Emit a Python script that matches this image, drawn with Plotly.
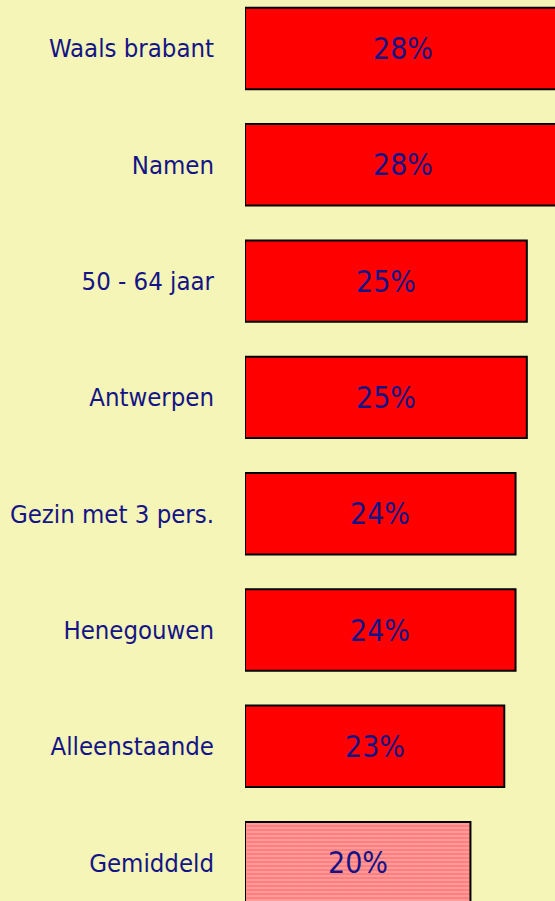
import plotly.graph_objects as go

categories = ["Waals brabant", "Namen", "50 - 64 jaar", "Antwerpen",
              "Gezin met 3 pers.", "Henegouwen", "Alleenstaande", "Gemiddeld"]
values = [28, 28, 25, 25, 24, 24, 23, 20]
labels = [f"{v}%" for v in values]

FONT = "Liberation Sans Narrow, DejaVu Sans Condensed, Liberation Sans, sans-serif"
NAVY = "#141486"
BG = "#f5f5b8"

main_cats = categories[:-1]
main_vals = values[:-1]

fig = go.Figure()
fig.add_trace(go.Bar(
    y=main_cats, x=main_vals, orientation="h", width=0.70,
    marker=dict(color="#ff0000", line=dict(color="#000000", width=2)),
    hoverinfo="skip",
))
fig.add_trace(go.Bar(
    y=[categories[-1]], x=[values[-1]], orientation="h", width=0.70,
    marker=dict(color="#ff9a9a", line=dict(color="#000000", width=2),
                pattern=dict(shape="-", fgcolor="#ff6464", bgcolor="#ff9a9a",
                             size=4, solidity=0.5)),
    hoverinfo="skip",
))

for c, v, t in zip(categories, values, labels):
    fig.add_annotation(x=v / 2, y=c, text=t, showarrow=False,
                       font=dict(family=FONT, size=30, color=NAVY),
                       xanchor="center", yanchor="middle")

fig.update_layout(
    width=555, height=901,
    margin=dict(l=245, r=0, t=0, b=0, autoexpand=False),
    paper_bgcolor=BG, plot_bgcolor=BG,
    showlegend=False, barmode="overlay",
    xaxis=dict(range=[0, 27.5], visible=False, showgrid=False, zeroline=False),
    yaxis=dict(categoryorder="array", categoryarray=categories,
               range=[7.33, -0.417], showgrid=False, zeroline=False,
               ticks="", ticklabelstandoff=30, automargin=False,
               tickfont=dict(family=FONT, size=25.5, color=NAVY)),
)

fig.write_html("out.html", config={"displayModeBar": False},
               post_script="document.body.style.margin='0';")
